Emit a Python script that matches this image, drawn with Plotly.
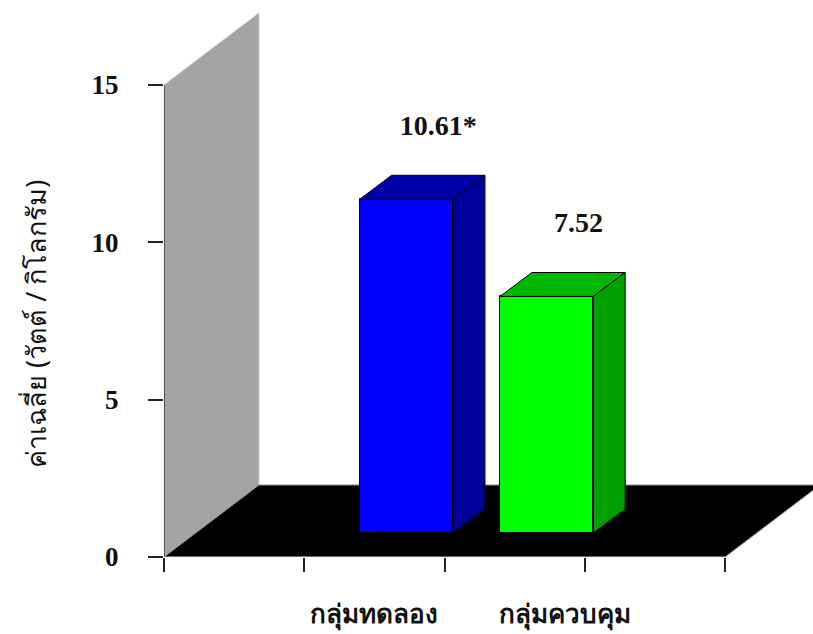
import plotly.graph_objects as go

# Group means and their presentation
categories = ["กลุ่มทดลอง", "กลุ่มควบคุม"]
means = [10.61, 7.52]
mean_labels = ["10.61*", "7.52"]
positions = [1.5, 2.5]
category_label_positions = [1.5, 2.86]
front_colors = ["#0000ff", "#00ff00"]
top_colors = ["#0000aa", "#00b800"]
side_colors = ["#00009a", "#00a000"]

y_ticks = [0, 5, 10, 15]
x_ticks = [0, 1, 2, 3, 4]
y_title = "ค่าเฉลี่ย (วัตต์ / กิโลกรัม)"

# Oblique projection of the depth axis, in axis units
FLOOR_DX, FLOOR_DY = 0.677, 2.288
BAR_DX, BAR_DY = 0.228, 0.76
BAR_WIDTH = 0.665
LABEL_GAP = 1.06

SERIF = "Liberation Serif, Times New Roman, serif"
THAI = "Noto Sans, DejaVu Sans, sans-serif"


def poly(xs, ys):
    return "M " + " L ".join(f"{a},{b}" for a, b in zip(xs, ys)) + " Z"


fig = go.Figure()

# Flat faces of the bars
fig.add_trace(go.Bar(
    x=[p + BAR_DX for p in positions], y=means, base=BAR_DY, width=BAR_WIDTH,
    marker=dict(color=front_colors, line=dict(color="#000000", width=1)),
    hoverinfo="skip", showlegend=False,
))

# Top and side faces projected back from each bar
for p, v, top, side in zip(positions, means, top_colors, side_colors):
    left = p + BAR_DX - BAR_WIDTH / 2
    right = p + BAR_DX + BAR_WIDTH / 2
    low = BAR_DY
    high = v + BAR_DY
    for xs, ys, col in [
        ([left, right, right + BAR_DX, left + BAR_DX, left],
         [high, high, high + BAR_DY, high + BAR_DY, high], top),
        ([right, right + BAR_DX, right + BAR_DX, right, right],
         [high, high + BAR_DY, low + BAR_DY, low, high], side),
    ]:
        fig.add_trace(go.Scatter(
            x=xs, y=ys, mode="lines", fill="toself", fillcolor=col,
            line=dict(color="#000000", width=1),
            hoverinfo="skip", showlegend=False,
        ))

# Value labels above the back edge of each bar
fig.add_trace(go.Scatter(
    x=[p + 2 * BAR_DX for p in positions],
    y=[v + 2 * BAR_DY + LABEL_GAP for v in means],
    mode="text", text=mean_labels, textposition="top center",
    textfont=dict(family=SERIF, size=28, color="#111111", weight="bold"),
    hoverinfo="skip", showlegend=False, cliponaxis=False,
))

# Vertical and horizontal axis lines stop at the last tick
fig.add_trace(go.Scatter(
    x=[x_ticks[0], x_ticks[0]], y=[y_ticks[0], y_ticks[-1]], mode="lines",
    line=dict(color="#333333", width=1.5), cliponaxis=False,
    hoverinfo="skip", showlegend=False,
))
fig.add_trace(go.Scatter(
    x=[x_ticks[0], x_ticks[-1]], y=[y_ticks[0], y_ticks[0]], mode="lines",
    line=dict(color="#8a8a8a", width=1.2), cliponaxis=False,
    hoverinfo="skip", showlegend=False,
))

# Carries the group names under the floor
fig.add_trace(go.Scatter(
    x=category_label_positions, y=[None, None], xaxis="x2", mode="markers",
    hoverinfo="skip", showlegend=False,
))

x0, x1 = x_ticks[0], x_ticks[-1]
y0, y1 = y_ticks[0], y_ticks[-1]
fig.update_layout(
    width=813, height=634,
    margin=dict(l=164, r=0, t=0, b=77),
    paper_bgcolor="#ffffff", plot_bgcolor="#ffffff",
    bargap=0,
    shapes=[
        dict(type="path", layer="below", xref="x", yref="y",
             path=poly([x0, x0, x0 + FLOOR_DX, x0 + FLOOR_DX],
                       [y0, y1, y1 + FLOOR_DY, y0 + FLOOR_DY]),
             fillcolor="#a4a4a4", line=dict(color="#c8c8c8", width=1)),
        dict(type="path", layer="below", xref="x", yref="y",
             path=poly([x0, x1, x1 + FLOOR_DX, x0 + FLOOR_DX],
                       [y0, y0, y0 + FLOOR_DY, y0 + FLOOR_DY]),
             fillcolor="#000000", line=dict(color="#8a8a8a", width=1)),
    ],
    xaxis=dict(
        range=[0, 649 / 140.25], tickvals=x_ticks, ticktext=[""] * len(x_ticks),
        ticks="outside", ticklen=14, tickwidth=1.5, tickcolor="#222222",
        showgrid=False, zeroline=False, showline=False,
    ),
    xaxis2=dict(
        range=[0, 649 / 140.25], overlaying="x", side="bottom", anchor="y",
        tickvals=category_label_positions, ticktext=categories, ticks="",
        ticklabelstandoff=39,
        tickfont=dict(family=THAI, size=26, color="#111111", weight="bold"),
        showgrid=False, zeroline=False, showline=False,
    ),
    yaxis=dict(
        range=[0, 557 / 31.47], tickvals=y_ticks,
        ticks="outside", ticklen=15, tickwidth=1.5, tickcolor="#222222",
        tickfont=dict(family=SERIF, size=27, color="#111111", weight="bold"),
        ticklabelstandoff=24,
        showgrid=False, zeroline=False, showline=False,
    ),
    annotations=[dict(
        text=y_title, textangle=-90, xref="paper", yref="paper",
        x=(35 - 164) / 649, y=(557 - 324) / 557,
        xanchor="center", yanchor="middle", showarrow=False,
        font=dict(family=THAI, size=27, color="#111111"),
    )],
)

fig.write_html("out.html")
